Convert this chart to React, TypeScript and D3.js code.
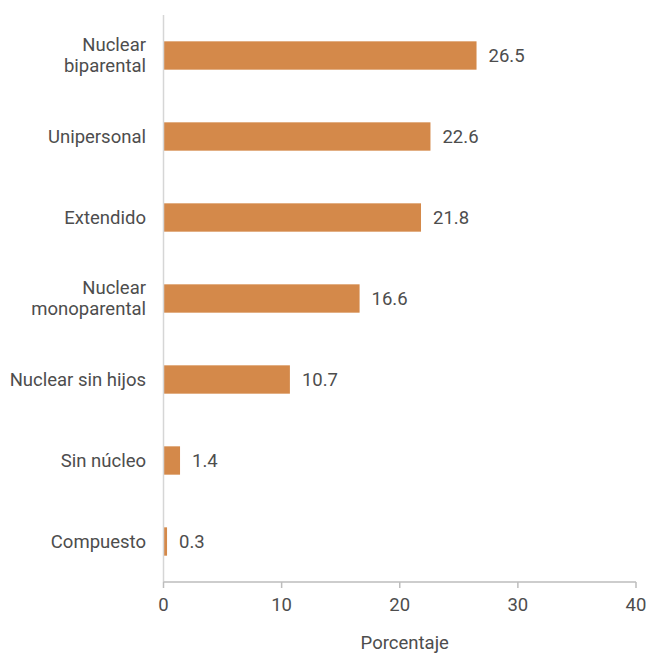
import React from "react";
import * as d3 from "d3";

const categories: string[][] = [
  ["Nuclear", "biparental"],
  ["Unipersonal"],
  ["Extendido"],
  ["Nuclear", "monoparental"],
  ["Nuclear sin hijos"],
  ["Sin núcleo"],
  ["Compuesto"],
];
const values: number[] = [26.5, 22.6, 21.8, 16.6, 10.7, 1.4, 0.3];
const xTicks: number[] = [0, 10, 20, 30, 40];
const xTitle = "Porcentaje";

const W = 647;
const H = 654;
const left = 163.5;
const right = 636;
const top = 15;
const bottom = 582;
const barColor = "#D4894A";
const textColor = "#4d4d4d";
const axisColor = "#d6d6d6";
const font = "Roboto, 'Noto Sans', sans-serif";
const fs = 18.5;

export default function App() {
  const x = d3.scaleLinear().domain([0, 40]).range([left, right]);
  const y = d3
    .scaleBand<number>()
    .domain(d3.range(categories.length))
    .range([top, bottom])
    .paddingInner(0.65)
    .paddingOuter(0.325);

  return (
    <svg
      width={W}
      height={H}
      style={{ position: "absolute", left: 0, top: 0 }}
      fontFamily={font}
    >
      {/* bars */}
      {values.map((v, i) => (
        <rect
          key={i}
          x={x(0)}
          y={y(i)!}
          width={x(v) - x(0)}
          height={y.bandwidth()}
          fill={barColor}
        />
      ))}
      {/* value labels */}
      {values.map((v, i) => (
        <text
          key={"v" + i}
          x={x(v) + 12}
          y={y(i)! + y.bandwidth() / 2}
          dy="0.35em"
          fontSize={fs}
          fill={textColor}
        >
          {v.toFixed(1)}
        </text>
      ))}
      {/* category labels */}
      {categories.map((lines, i) => {
        const cy = y(i)! + y.bandwidth() / 2;
        const lh = 21;
        const start = cy - ((lines.length - 1) * lh) / 2;
        return (
          <text
            key={"c" + i}
            x={146}
            textAnchor="end"
            fontSize={fs}
            fill={textColor}
          >
            {lines.map((l, j) => (
              <tspan key={j} x={146} y={start + j * lh} dy="0.35em">
                {l}
              </tspan>
            ))}
          </text>
        );
      })}
      {/* y axis line */}
      <line x1={left} x2={left} y1={top} y2={bottom} stroke={axisColor} strokeWidth={1.5} />
      {/* x axis */}
      <line x1={left} x2={right} y1={bottom} y2={bottom} stroke="#bdbdbd" strokeWidth={1.5} />
      {xTicks.map((t) => (
        <g key={"t" + t}>
          <line x1={x(t)} x2={x(t)} y1={bottom} y2={bottom + 6} stroke="#bdbdbd" strokeWidth={1.5} />
          <text
            x={x(t)}
            y={605}
            dy="0.35em"
            textAnchor="middle"
            fontSize={fs}
            fill={textColor}
          >
            {t}
          </text>
        </g>
      ))}
      <text
        x={(left + right) / 2 + 5}
        y={649}
        textAnchor="middle"
        fontSize={fs}
        fill={textColor}
      >
        {xTitle}
      </text>
    </svg>
  );
}
